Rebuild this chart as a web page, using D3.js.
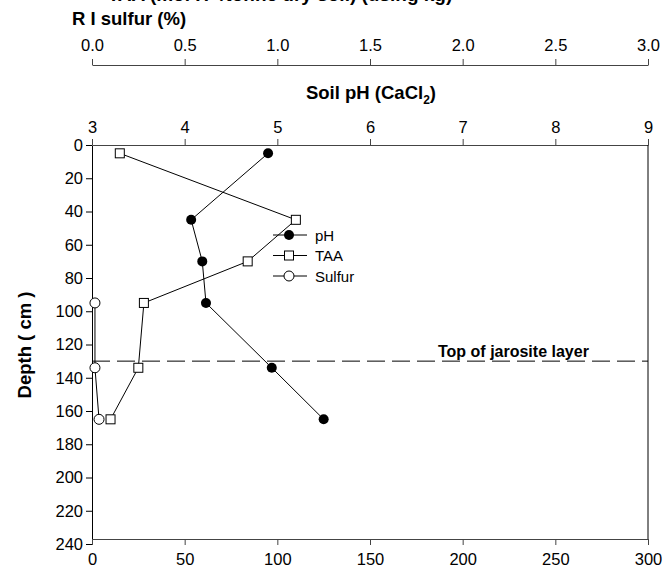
<!DOCTYPE html>
<html><head><meta charset="utf-8">
<script src="https://cdn.jsdelivr.net/npm/d3@7"></script>
<style>body{margin:0;background:#fff}svg{display:block;font-family:"Liberation Sans",Arial,sans-serif}</style>
</head><body><svg id="c" width="664" height="579"></svg>
<script>
const depths = [5, 45, 70, 95, 134, 165];
const phValues = [4.9, 4.07, 4.19, 4.23, 4.94, 5.5];
const taaValues = [15, 110, 84, 28, 25, 10];
const sulfurDepths = [95, 134, 165];
const sulfurValues = [0.016, 0.016, 0.038];
const depthTicks = [0,20,40,60,80,100,120,140,160,180,200,220,240];
const taaTicks = [0,50,100,150,200,250,300];
const phTicks = [3,4,5,6,7,8,9];
const sulfurTicks = [0,0.5,1,1.5,2,2.5,3];
const jarositeDepth = 130;

const svg = d3.select("#c");
const L = 92, R = 648, T = 145, B = 544, BA = 539;
const y = d3.scaleLinear().domain([0,240]).range([T,B]);
const xT = d3.scaleLinear().domain([0,300]).range([L,R]);
const xP = d3.scaleLinear().domain([3,9]).range([L,R]);
const xS = d3.scaleLinear().domain([0,3]).range([L,R]);
const FONT = "Liberation Sans, Arial, sans-serif";

function style(g, col){
  g.attr("font-family", FONT).attr("font-size", 16.5);
  g.selectAll("path").attr("stroke", col).attr("stroke-width",1);
  g.selectAll("line").attr("stroke", col);
  g.selectAll("text").attr("fill","#000");
}
// left depth axis
const gl = svg.append("g").attr("transform",`translate(${L},0)`)
  .call(d3.axisLeft(y).tickValues(depthTicks).tickFormat(d3.format("d")).tickSize(6).tickSizeOuter(0).tickPadding(3));
style(gl,"#000");
// bottom TAA axis
const gb = svg.append("g").attr("transform",`translate(0,${BA})`)
  .call(d3.axisBottom(xT).tickValues(taaTicks).tickFormat(d3.format("d")).tickSize(6).tickSizeOuter(0).tickPadding(8));
style(gb,"#444");
// pH axis (top of plot)
const gp = svg.append("g").attr("transform",`translate(0,${T})`)
  .call(d3.axisTop(xP).tickValues(phTicks).tickFormat(d3.format("d")).tickSize(6).tickSizeOuter(0).tickPadding(6));
style(gp,"#444");
// sulfur axis
const gs = svg.append("g").attr("transform",`translate(0,65)`)
  .call(d3.axisTop(xS).tickValues(sulfurTicks).tickFormat(d3.format(".1f")).tickSize(6).tickSizeOuter(0).tickPadding(8));
style(gs,"#444");
// right border
svg.append("line").attr("x1",R).attr("x2",R).attr("y1",T).attr("y2",BA).attr("stroke","#000");

// titles
svg.append("text").attr("x",280).attr("y",1).attr("text-anchor","middle")
  .attr("font-size","19px").attr("font-weight","bold").text("TAA (mol H+/tonne dry soil) (using kg)");
svg.append("text").attr("x",72).attr("y",25).attr("font-size","18.5px").attr("font-weight","bold").text("R I sulfur (%)");
const ph = svg.append("text").attr("x",371).attr("y",99).attr("text-anchor","middle")
  .attr("font-size","18.5px").attr("font-weight","bold");
ph.append("tspan").text("Soil pH (CaCl");
ph.append("tspan").attr("font-size","12px").attr("dy",5).text("2");
ph.append("tspan").attr("dy",-5).text(")");
svg.append("text").attr("transform","translate(31,345) rotate(-90)").attr("text-anchor","middle")
  .attr("font-size","18.5px").attr("font-weight","bold").text("Depth ( cm )");

// jarosite line
svg.append("line").attr("x1",L).attr("x2",R).attr("y1",y(jarositeDepth)).attr("y2",y(jarositeDepth))
  .attr("stroke","#000").attr("stroke-dasharray","18,7");
svg.append("text").attr("x",438).attr("y",y(jarositeDepth)-4).attr("font-size","16px").attr("font-weight","bold")
  .text("Top of jarosite layer");

// series
const phData = depths.map((d,i)=>({d, v:phValues[i]}));
const taaData = depths.map((d,i)=>({d, v:taaValues[i]}));
const sData = sulfurDepths.map((d,i)=>({d, v:sulfurValues[i]}));
function line(data, xs){
  svg.append("path").datum(data).attr("fill","none").attr("stroke","#000").attr("stroke-width",1)
    .attr("d", d3.line().x(p=>xs(p.v)).y(p=>y(p.d)));
}
line(phData, xP); line(taaData, xT); line(sData, xS);
svg.selectAll(".ph").data(phData).join("circle").attr("cx",p=>xP(p.v)).attr("cy",p=>y(p.d)).attr("r",5).attr("fill","#000");
svg.selectAll(".taa").data(taaData).join("rect").attr("x",p=>xT(p.v)-4.5).attr("y",p=>y(p.d)-4.5).attr("width",9).attr("height",9)
  .attr("fill","#fff").attr("stroke","#000");
svg.selectAll(".su").data(sData).join("circle").attr("cx",p=>xS(p.v)).attr("cy",p=>y(p.d)).attr("r",5).attr("fill","#fff").attr("stroke","#000");

// legend
const leg = [{n:"pH",t:"fc"},{n:"TAA",t:"sq"},{n:"Sulfur",t:"oc"}];
leg.forEach((e,i)=>{
  const yy = 235 + i*20.5;
  svg.append("line").attr("x1",273).attr("x2",307).attr("y1",yy).attr("y2",yy).attr("stroke","#000");
  if(e.t==="fc") svg.append("circle").attr("cx",289).attr("cy",yy).attr("r",5).attr("fill","#000");
  if(e.t==="sq") svg.append("rect").attr("x",284.5).attr("y",yy-4.5).attr("width",9).attr("height",9).attr("fill","#fff").attr("stroke","#000");
  if(e.t==="oc") svg.append("circle").attr("cx",289).attr("cy",yy).attr("r",5).attr("fill","#fff").attr("stroke","#000");
  svg.append("text").attr("x",315).attr("y",yy+5.5).attr("font-size","15px").text(e.n);
});
</script></body></html>
